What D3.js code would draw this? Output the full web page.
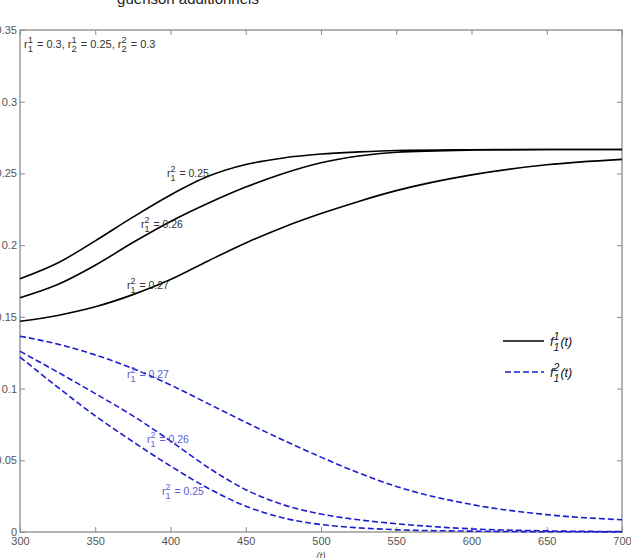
<!DOCTYPE html>
<html>
<head>
<meta charset="utf-8">
<script src="https://cdn.jsdelivr.net/npm/d3@7"></script>
<style>
  body { margin: 0; background: #fff; }
  svg { display: block; font-family: "Liberation Sans", Arial, sans-serif; }
</style>
</head>
<body>
<div id="chart"></div>
<script>
// time grid (t)
const tValues = [300, 325, 350, 375, 400, 425, 450, 475, 500, 525, 550, 600, 650, 700];

// f_1^1(t), solid black, for r_1^2 = 0.25 / 0.26 / 0.27
const f1_r025 = [0.1765, 0.1875, 0.2030, 0.2195, 0.2350, 0.2480, 0.2562, 0.2608, 0.2635, 0.2650, 0.2660, 0.2665, 0.2667, 0.2667];
const f1_r026 = [0.1633, 0.1725, 0.1860, 0.2018, 0.2165, 0.2292, 0.2405, 0.2500, 0.2575, 0.2622, 0.2648, 0.2663, 0.2667, 0.2667];
const f1_r027 = [0.1469, 0.1510, 0.1570, 0.1655, 0.1760, 0.1890, 0.2015, 0.2125, 0.2220, 0.2305, 0.2380, 0.2490, 0.2560, 0.2598];

// f_1^2(t), dashed blue
const f2_r027 = [0.1365, 0.1310, 0.1235, 0.1140, 0.1025, 0.0895, 0.0765, 0.0640, 0.0522, 0.0412, 0.0318, 0.0192, 0.0121, 0.0085];
const f2_r026 = [0.1260, 0.1115, 0.0965, 0.0810, 0.0635, 0.0450, 0.0295, 0.0190, 0.0125, 0.0085, 0.0058, 0.0022, 0.0008, 0.0003];
const f2_r025 = [0.1220, 0.1010, 0.0810, 0.0630, 0.0460, 0.0305, 0.0180, 0.0098, 0.0052, 0.0029, 0.0016, 0.0006, 0.0002, 0.0001];

const xTicks = [300, 350, 400, 450, 500, 550, 600, 650, 700];
const yTicks = [0, 0.05, 0.1, 0.15, 0.2, 0.25, 0.3, 0.35];

const titleText = "guérison additionnels";

const width = 631, height = 558;
const margin = {top: 30, right: 9, bottom: 26, left: 20};
const innerW = width - margin.left - margin.right;
const innerH = height - margin.top - margin.bottom;

const svg = d3.select("#chart").append("svg")
  .attr("width", width)
  .attr("height", height);

const x = d3.scaleLinear().domain([300, 700]).range([margin.left, margin.left + innerW]);
const y = d3.scaleLinear().domain([0, 0.35]).range([margin.top + innerH, margin.top]);

const axisColor = "#8a8a8a";
const labelColor = "#555";

// title, mostly cut by the top edge
svg.append("text")
  .attr("x", 188).attr("y", 4)
  .attr("text-anchor", "middle")
  .attr("font-size", 15)
  .attr("fill", "#222")
  .text(titleText);

const fmt = d => d === 0 ? "0" : String(+d.toFixed(2));

// axes with inward ticks, box on all 4 sides
const gx = svg.append("g")
  .attr("transform", `translate(0,${margin.top + innerH})`)
  .call(d3.axisBottom(x).tickValues(xTicks).tickSizeInner(-5).tickSizeOuter(0).tickPadding(5));
const gxTop = svg.append("g")
  .attr("transform", `translate(0,${margin.top})`)
  .call(d3.axisTop(x).tickValues(xTicks).tickSizeInner(-5).tickSizeOuter(0).tickFormat(""));
const gy = svg.append("g")
  .attr("transform", `translate(${margin.left},0)`)
  .call(d3.axisLeft(y).tickValues(yTicks).tickFormat(fmt).tickSizeInner(-5).tickSizeOuter(0).tickPadding(3));
const gyRight = svg.append("g")
  .attr("transform", `translate(${margin.left + innerW},0)`)
  .call(d3.axisRight(y).tickValues(yTicks).tickSizeInner(-5).tickSizeOuter(0).tickFormat(""));

[gx, gxTop, gy, gyRight].forEach(g => {
  g.select(".domain").remove();
  g.selectAll(".tick line").attr("stroke", axisColor);
  g.selectAll("text").attr("fill", labelColor).attr("font-size", 11).attr("font-family", "Liberation Sans, Arial, sans-serif");
});

svg.append("rect")
  .attr("x", margin.left).attr("y", margin.top)
  .attr("width", innerW).attr("height", innerH)
  .attr("fill", "none").attr("stroke", axisColor).attr("stroke-width", 1.3);

// x label
svg.append("text")
  .attr("x", x(500)).attr("y", 560)
  .attr("text-anchor", "middle")
  .attr("font-size", 10).attr("font-style", "italic")
  .attr("fill", labelColor)
  .text("(t)");

// curves
const line = d3.line()
  .x((d, i) => x(tValues[i]))
  .y(d => y(d))
  .curve(d3.curveMonotoneX);

const plot = svg.append("g");
[f1_r025, f1_r026, f1_r027].forEach(s => {
  plot.append("path").datum(s)
    .attr("d", line)
    .attr("fill", "none").attr("stroke", "#000").attr("stroke-width", 1.6);
});
[f2_r027, f2_r026, f2_r025].forEach(s => {
  plot.append("path").datum(s)
    .attr("d", line)
    .attr("fill", "none").attr("stroke", "#1c1cd0").attr("stroke-width", 1.6)
    .attr("stroke-dasharray", "6,3");
});

// text with stacked super/subscript, e.g. r_1^2
function richLabel(px, py, parts, color, size) {
  const t = svg.append("text").attr("font-size", size).attr("fill", color);
  let cx = px;
  parts.forEach(p => {
    if (p.base) {
      const s = t.append("tspan").attr("x", cx).attr("y", py).text(p.base);
      cx += s.node().getComputedTextLength();
      if (p.sup || p.sub) {
        const a = t.append("tspan").attr("x", cx).attr("y", py - size * 0.45).attr("font-size", size * 0.85).text(p.sup || "");
        const b = t.append("tspan").attr("x", cx).attr("y", py + size * 0.4).attr("font-size", size * 0.85).text(p.sub || "");
        cx += Math.max(a.node().getComputedTextLength(), b.node().getComputedTextLength()) + 1;
      }
    }
  });
  return t;
}

richLabel(24, 48, [
  {base: "r", sup: "1", sub: "1"}, {base: " = 0.3, r", sup: "1", sub: "2"},
  {base: " = 0.25, r", sup: "2", sub: "2"}, {base: " = 0.3"}
], "#333", 11);

const blackLbl = "#333", blueLbl = "#5b5bd6";
richLabel(167, 177, [{base: "r", sup: "2", sub: "1"}, {base: " = 0.25"}], blackLbl, 10.5);
richLabel(141, 228, [{base: "r", sup: "2", sub: "1"}, {base: " = 0.26"}], blackLbl, 10.5);
richLabel(127, 289, [{base: "r", sup: "2", sub: "1"}, {base: " = 0.27"}], blackLbl, 10.5);
richLabel(127, 378, [{base: "r", sup: "2", sub: "1"}, {base: " = 0.27"}], blueLbl, 10.5);
richLabel(147, 443, [{base: "r", sup: "2", sub: "1"}, {base: " = 0.26"}], blueLbl, 10.5);
richLabel(162, 495, [{base: "r", sup: "2", sub: "1"}, {base: " = 0.25"}], blueLbl, 10.5);

// legend
const legend = svg.append("g");
legend.append("line").attr("x1", 503).attr("x2", 544).attr("y1", 341).attr("y2", 341)
  .attr("stroke", "#000").attr("stroke-width", 1.6);
legend.append("line").attr("x1", 505).attr("x2", 544).attr("y1", 372).attr("y2", 372)
  .attr("stroke", "#1c1cd0").attr("stroke-width", 1.6).attr("stroke-dasharray", "6,3");
richLabel(550, 346, [{base: "f", sup: "1", sub: "1"}, {base: "(t)"}], "#111", 12.5).attr("font-style", "italic");
richLabel(550, 377, [{base: "f", sup: "2", sub: "1"}, {base: "(t)"}], "#111", 12.5).attr("font-style", "italic");
</script>
</body>
</html>
